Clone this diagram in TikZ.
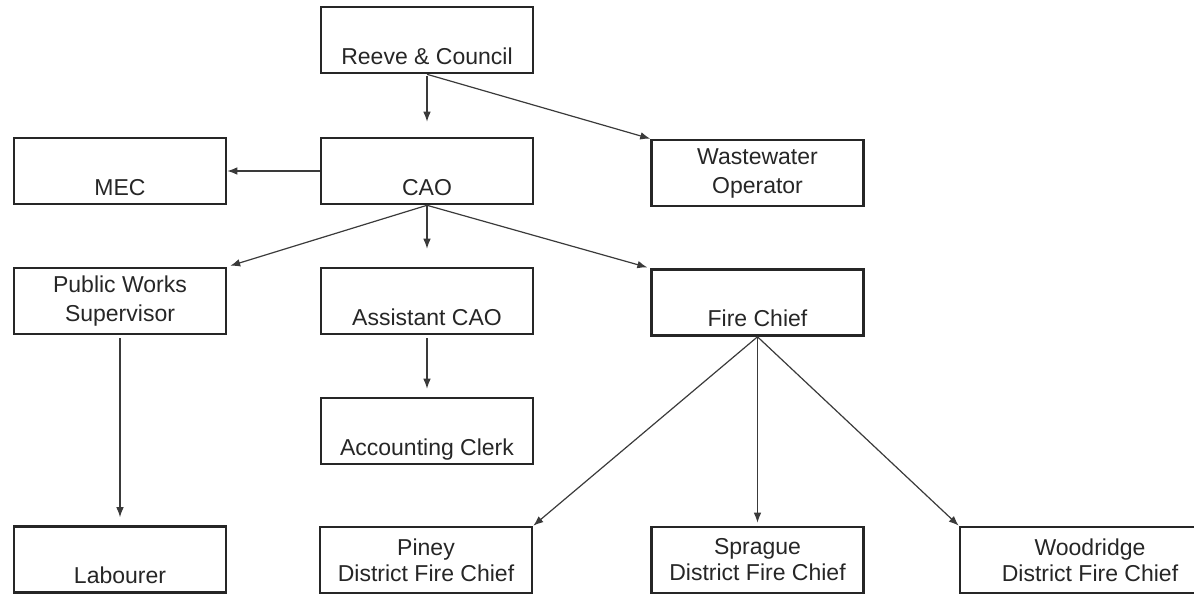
\documentclass[tikz,border=0pt]{standalone}
\usepackage{fontspec}
\setmainfont{Liberation Sans}
\usetikzlibrary{arrows.meta}
\definecolor{edgegray}{HTML}{262626}
\definecolor{wiregray}{HTML}{3A3A3A}
\tikzstyle{box} = [draw=edgegray, line width=1.3pt, minimum width=106pt, minimum height=33pt, inner sep=0pt, text=edgegray, font=\fontsize{11.5pt}{14.5pt}\selectfont]
\tikzstyle{onel} = [box, text height=28.5pt, text depth=4.5pt]
\tikzstyle{twol} = [box, align=center]
\tikzstyle{low} = [font=\fontsize{11.5pt}{13pt}\selectfont]
\tikzstyle{line} = [draw=wiregray, line width=0.6pt, ->]
\tikzset{>={Latex[length=5pt,width=3.8pt]}}

\begin{document}
\begin{tikzpicture}[x=0.5pt,y=-0.5pt]
    \clip (0,0) rectangle (1194,594);
    % boxes
    \node [onel] (reeve) at (427,40) {Reeve \& Council};
    \node [onel] (cao) at (427,171) {CAO};
    \node [onel] (mec) at (120,171) {MEC};
    \node [twol] (ww) at (757.5,173) {Wastewater\\Operator};
    \node [twol] (pws) at (120,301) {Public Works\\Supervisor};
    \node [onel] (asst) at (427,301) {Assistant CAO};
    \node [onel] (fire) at (757.5,302.5) {Fire Chief};
    \node [onel] (clerk) at (427,431) {Accounting Clerk};
    \node [onel] (lab) at (120,559.5) {Labourer};
    \node [twol,low] (piney) at (426,560) {Piney\\District Fire Chief};
    \node [twol,low] (sprague) at (757.5,560) {Sprague\\District Fire Chief};
    \node [twol,low,minimum width=130pt] (wood) at (1090,560) {Woodridge\\District Fire Chief};
    % reporting lines
    \draw [line,shorten <=1pt,shorten >=7.5pt] (reeve) -- (cao);
    \draw [line] (reeve.south) -- (ww.north west);
    \draw [line] (cao.west) -- (mec.east);
    \draw [line,shorten >=1.5pt] (cao.south) -- (pws.north east);
    \draw [line,shorten >=9pt] (cao) -- (asst);
    \draw [line,shorten >=1.5pt] (cao.south) -- (fire.north west);
    \draw [line,shorten <=1.5pt,shorten >=4pt] (asst) -- (clerk);
    \draw [line,shorten <=1.5pt,shorten >=4pt] (pws) -- (lab);
    \draw [line] (fire.south) -- (piney.north east);
    \draw [line,shorten >=1.5pt] (fire) -- (sprague);
    \draw [line] (fire.south) -- (wood.north west);
\end{tikzpicture}
\end{document}
